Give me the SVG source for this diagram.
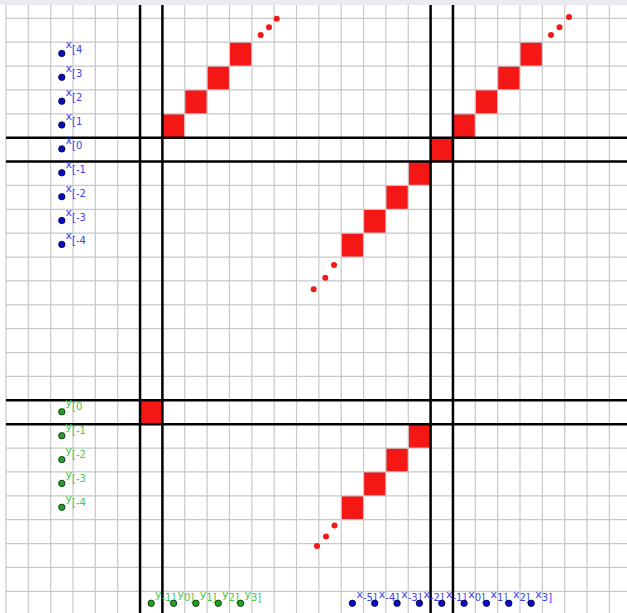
<svg xmlns="http://www.w3.org/2000/svg" width="627" height="613" viewBox="0 0 627 613">
<style>
.g{stroke:#c8c8c8;stroke-width:1.2;fill:none}
.ax{stroke:#000;stroke-width:2.5;fill:none}
.sq{fill:#f51616}
.rd{fill:#f51616}
.bd{fill:#0b0bcc;stroke:#000022;stroke-width:0.8}
.gd{fill:#22a022;stroke:#002200;stroke-width:0.8}
.bl{font-family:"DejaVu Sans",sans-serif;font-size:11px;fill:#4040f0}
.gl{font-family:"DejaVu Sans",sans-serif;font-size:11px;fill:#44c844}
.s{font-size:10px}
</style>
<rect x="0" y="0" width="627" height="613" fill="#ffffff"/>
<rect x="0" y="0" width="627" height="5" fill="#eaeaef"/>
<g id="squares">
<rect class="sq" x="162.4" y="113.8" width="22.35" height="23.9"/>
<rect class="sq" x="184.75" y="89.93" width="22.35" height="23.9"/>
<rect class="sq" x="207.1" y="66.05" width="22.35" height="23.9"/>
<rect class="sq" x="229.45" y="42.18" width="22.35" height="23.9"/>
<rect class="sq" x="430.6" y="137.68" width="22.35" height="23.9"/>
<rect class="sq" x="408.25" y="161.55" width="22.35" height="23.9"/>
<rect class="sq" x="385.9" y="185.43" width="22.35" height="23.9"/>
<rect class="sq" x="363.55" y="209.3" width="22.35" height="23.9"/>
<rect class="sq" x="341.2" y="233.18" width="22.35" height="23.9"/>
<rect class="sq" x="452.95" y="113.8" width="22.35" height="23.9"/>
<rect class="sq" x="475.3" y="89.93" width="22.35" height="23.9"/>
<rect class="sq" x="497.65" y="66.05" width="22.35" height="23.9"/>
<rect class="sq" x="520.0" y="42.18" width="22.35" height="23.9"/>
<rect class="sq" x="140.05" y="400.3" width="22.35" height="23.9"/>
<rect class="sq" x="408.25" y="424.18" width="22.35" height="23.9"/>
<rect class="sq" x="385.9" y="448.05" width="22.35" height="23.9"/>
<rect class="sq" x="363.55" y="471.93" width="22.35" height="23.9"/>
<rect class="sq" x="341.2" y="495.8" width="22.35" height="23.9"/>
</g>
<g id="grid" class="g">
<path d="M5.95 5V613M28.3 5V613M50.65 5V613M73 5V613M95.35 5V613M117.7 5V613M140.05 5V613M162.4 5V613M184.75 5V613M207.1 5V613M229.45 5V613M251.8 5V613M274.15 5V613M296.5 5V613M318.85 5V613M341.2 5V613M363.55 5V613M385.9 5V613M408.25 5V613M430.6 5V613M452.95 5V613M475.3 5V613M497.65 5V613M520 5V613M542.35 5V613M564.7 5V613M587.05 5V613M609.4 5V613"/>
<path d="M5.95 18.3H627M5.95 42.18H627M5.95 66.05H627M5.95 89.93H627M5.95 113.8H627M5.95 137.68H627M5.95 161.55H627M5.95 185.43H627M5.95 209.3H627M5.95 233.18H627M5.95 257.05H627M5.95 280.93H627M5.95 304.8H627M5.95 328.68H627M5.95 352.55H627M5.95 376.43H627M5.95 400.3H627M5.95 424.18H627M5.95 448.05H627M5.95 471.93H627M5.95 495.8H627M5.95 519.68H627M5.95 543.55H627M5.95 567.43H627M5.95 591.3H627"/>
</g>
<g id="connectors" class="ax">
<path d="M140.05 5V613M162.4 5V613M430.6 5V613M452.95 5V613"/>
<path d="M5.95 137.68H627M5.95 161.55H627M5.95 400.3H627M5.95 424.18H627"/>
</g>
<g id="reddots">
<circle class="rd" cx="260.7" cy="35" r="3"/>
<circle class="rd" cx="269" cy="27.3" r="3"/>
<circle class="rd" cx="276.7" cy="18.7" r="3"/>
<circle class="rd" cx="551" cy="35" r="3"/>
<circle class="rd" cx="559.5" cy="27.3" r="3"/>
<circle class="rd" cx="569" cy="17" r="3"/>
<circle class="rd" cx="334" cy="265" r="3"/>
<circle class="rd" cx="325.3" cy="277.7" r="3"/>
<circle class="rd" cx="313.7" cy="289.3" r="3"/>
<circle class="rd" cx="334.5" cy="525.5" r="3"/>
<circle class="rd" cx="326" cy="536.5" r="3"/>
<circle class="rd" cx="317" cy="546" r="3"/>
</g>
<g id="xleft">
<circle class="bd" cx="61.8" cy="53.4" r="3.2"/><text class="bl" x="65.5" y="48.4">x<tspan class="s" dy="5">[4</tspan></text>
<circle class="bd" cx="61.8" cy="77.3" r="3.2"/><text class="bl" x="65.5" y="72.3">x<tspan class="s" dy="5">[3</tspan></text>
<circle class="bd" cx="61.8" cy="101.2" r="3.2"/><text class="bl" x="65.5" y="96.2">x<tspan class="s" dy="5">[2</tspan></text>
<circle class="bd" cx="61.8" cy="125" r="3.2"/><text class="bl" x="65.5" y="120">x<tspan class="s" dy="5">[1</tspan></text>
<circle class="bd" cx="61.8" cy="148.9" r="3.2"/><text class="bl" x="65.5" y="143.9">x<tspan class="s" dy="5">[0</tspan></text>
<circle class="bd" cx="61.8" cy="172.8" r="3.2"/><text class="bl" x="65.5" y="167.8">x<tspan class="s" dy="5">[-1</tspan></text>
<circle class="bd" cx="61.8" cy="196.7" r="3.2"/><text class="bl" x="65.5" y="191.7">x<tspan class="s" dy="5">[-2</tspan></text>
<circle class="bd" cx="61.8" cy="220.5" r="3.2"/><text class="bl" x="65.5" y="215.5">x<tspan class="s" dy="5">[-3</tspan></text>
<circle class="bd" cx="61.8" cy="244.4" r="3.2"/><text class="bl" x="65.5" y="239.4">x<tspan class="s" dy="5">[-4</tspan></text>
</g>
<g id="yleft">
<circle class="gd" cx="61.8" cy="411.8" r="3.2"/><text class="gl" x="65.5" y="406.3">y<tspan class="s" dy="4">[0</tspan></text>
<circle class="gd" cx="61.8" cy="435.7" r="3.2"/><text class="gl" x="65.5" y="430.2">y<tspan class="s" dy="4">[-1</tspan></text>
<circle class="gd" cx="61.8" cy="459.6" r="3.2"/><text class="gl" x="65.5" y="454.1">y<tspan class="s" dy="4">[-2</tspan></text>
<circle class="gd" cx="61.8" cy="483.4" r="3.2"/><text class="gl" x="65.5" y="477.9">y<tspan class="s" dy="4">[-3</tspan></text>
<circle class="gd" cx="61.8" cy="507.3" r="3.2"/><text class="gl" x="65.5" y="501.8">y<tspan class="s" dy="4">[-4</tspan></text>
</g>
<g id="ybottom">
<circle class="gd" cx="151.2" cy="603.3" r="3.2"/><text class="gl" x="155" y="597.5">y<tspan class="s" dy="3.5">-1]</tspan></text>
<circle class="gd" cx="173.6" cy="603.3" r="3.2"/><text class="gl" x="177.4" y="597.5">y<tspan class="s" dy="3.5">0]</tspan></text>
<circle class="gd" cx="195.9" cy="603.3" r="3.2"/><text class="gl" x="199.7" y="597.5">y<tspan class="s" dy="3.5">1]</tspan></text>
<circle class="gd" cx="218.3" cy="603.3" r="3.2"/><text class="gl" x="222.1" y="597.5">y<tspan class="s" dy="3.5">2]</tspan></text>
<circle class="gd" cx="240.6" cy="603.3" r="3.2"/><text class="gl" x="244.4" y="597.5">y<tspan class="s" dy="3.5">3]</tspan></text>
</g>
<g id="xbottom">
<circle class="bd" cx="352.4" cy="603.3" r="3.2"/><text class="bl" x="356.5" y="597.5">x<tspan class="s" dy="3.5">-5]</tspan></text>
<circle class="bd" cx="374.7" cy="603.3" r="3.2"/><text class="bl" x="378.8" y="597.5">x<tspan class="s" dy="3.5">-4]</tspan></text>
<circle class="bd" cx="397.1" cy="603.3" r="3.2"/><text class="bl" x="401.2" y="597.5">x<tspan class="s" dy="3.5">-3]</tspan></text>
<circle class="bd" cx="419.4" cy="603.3" r="3.2"/><text class="bl" x="423.5" y="597.5">x<tspan class="s" dy="3.5">-2]</tspan></text>
<circle class="bd" cx="441.8" cy="603.3" r="3.2"/><text class="bl" x="445.9" y="597.5">x<tspan class="s" dy="3.5">-1]</tspan></text>
<circle class="bd" cx="464.1" cy="603.3" r="3.2"/><text class="bl" x="468.2" y="597.5">x<tspan class="s" dy="3.5">0]</tspan></text>
<circle class="bd" cx="486.5" cy="603.3" r="3.2"/><text class="bl" x="490.6" y="597.5">x<tspan class="s" dy="3.5">1]</tspan></text>
<circle class="bd" cx="508.8" cy="603.3" r="3.2"/><text class="bl" x="512.9" y="597.5">x<tspan class="s" dy="3.5">2]</tspan></text>
<circle class="bd" cx="531.2" cy="603.3" r="3.2"/><text class="bl" x="535.3" y="597.5">x<tspan class="s" dy="3.5">3]</tspan></text>
</g>
</svg>
